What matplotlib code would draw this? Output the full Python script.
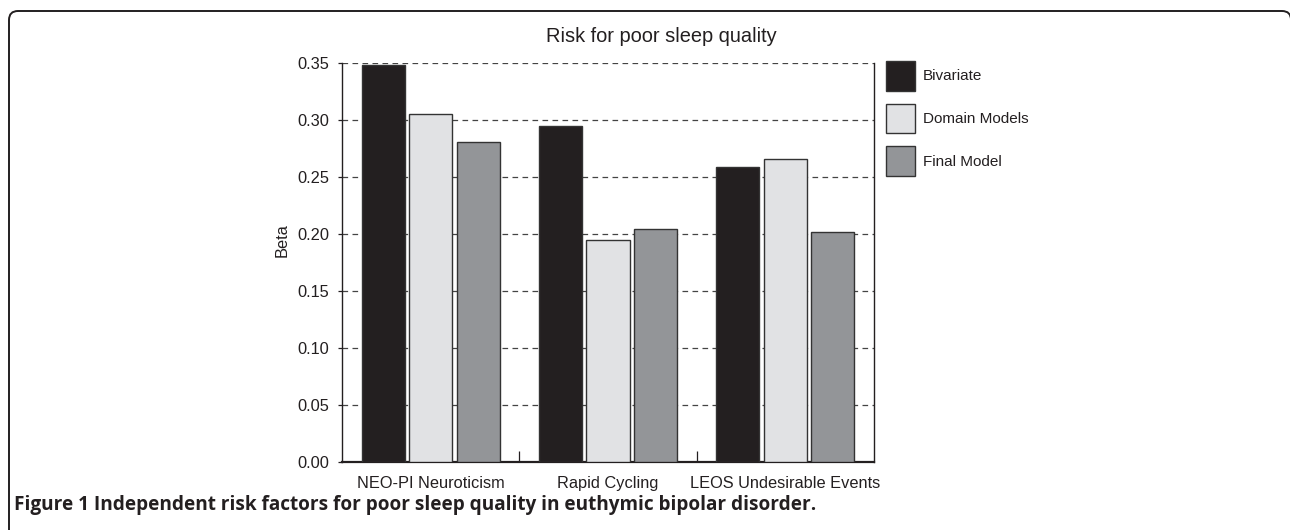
import matplotlib
matplotlib.use("Agg")
import matplotlib.pyplot as plt
import numpy as np
from matplotlib.patches import FancyBboxPatch, Patch
from matplotlib.transforms import IdentityTransform

# ---- data ----
categories = ["NEO-PI Neuroticism", "Rapid Cycling", "LEOS Undesirable Events"]
series_names = ["Bivariate", "Domain Models", "Final Model"]
bivariate = [0.348, 0.295, 0.259]
domain_models = [0.305, 0.195, 0.266]
final_model = [0.281, 0.204, 0.202]
yticks = [0.00, 0.05, 0.10, 0.15, 0.20, 0.25, 0.30, 0.35]
ytick_labels = ["0.00", "0.05", "0.10", "0.15", "0.20", "0.25", "0.30", "0.35"]
title = "Risk for poor sleep quality"
ylabel = "Beta"
caption = "Figure 1 Independent risk factors for poor sleep quality in euthymic bipolar disorder."

# ---- style ----
colors = ["#231f20", "#e1e2e4", "#939598"]
edge = "#333333"
txt = "#231f20"
W, H = 1290, 530
plt.rcParams["font.family"] = ["Liberation Sans", "DejaVu Sans"]

fig = plt.figure(figsize=(W / 100, H / 100), dpi=100)
fig.patch.set_facecolor("white")

ax_l, ax_r, ax_t, ax_b = 342, 874, 63, 462
ax = fig.add_axes([ax_l / W, (H - ax_b) / H, (ax_r - ax_l) / W, (ax_b - ax_t) / H])

x = np.arange(len(categories))
offset = 0.268
width = 0.243
series = [bivariate, domain_models, final_model]
for i, (vals, name, c) in enumerate(zip(series, series_names, colors)):
    ax.bar(x + (i - 1) * offset, vals, width, color=c, edgecolor=edge,
           linewidth=1.0, label=name, zorder=3)

ax.set_xlim(-0.5, 2.5)
ax.set_ylim(0, 0.35)
ax.set_yticks(yticks)
ax.set_yticklabels(ytick_labels)
ax.set_xticks(x)
ax.set_xticklabels(categories)
ax.set_xticks([0.5, 1.5], minor=True)
ax.tick_params(axis="x", which="major", length=0, pad=10, labelsize=11.8, colors=txt)
ax.tick_params(axis="x", which="minor", direction="in", length=8, width=0.9, color=txt)
ax.tick_params(axis="y", which="major", direction="out", length=3, width=0.9,
               pad=6, labelsize=11.8, colors=txt)

ax.yaxis.grid(True, linestyle=(0, (4.5, 3.5)), color="#444444", linewidth=0.9)
ax.set_axisbelow(True)
ax.spines["top"].set_visible(False)
for s in ["left", "right"]:
    ax.spines[s].set_linewidth(1.0)
    ax.spines[s].set_color(txt)
ax.spines["bottom"].set_linewidth(1.6)
ax.spines["bottom"].set_color(txt)

# title and y label
fig.text(661 / W, (H - 42) / H, title, ha="center", va="baseline",
         fontsize=14.4, color=txt)
fig.text(282 / W, (H - 240) / H, ylabel, ha="center", va="center",
         rotation=90, fontsize=11.8, color=txt)

# legend
handles = [Patch(facecolor=c, edgecolor=edge, linewidth=1.0) for c in colors]
fs = 11.0
fpx = fs / 72 * 100
leg = fig.legend(handles, series_names, loc="upper left",
                 bbox_to_anchor=(886 / W, (H - 61) / H),
                 frameon=False, fontsize=fs, borderpad=0, borderaxespad=0,
                 handlelength=29 / fpx, handleheight=28 / (0.7 * fpx),
                 handletextpad=8 / fpx, labelspacing=13 / fpx)
for t in leg.get_texts():
    t.set_color(txt)

# caption
cap = fig.text(14 / W, 20 / H, caption, ha="left", va="baseline",
               fontsize=14, fontweight="bold", color=txt,
               family=["Open Sans", "DejaVu Sans"])
fig.canvas.draw()
bb = cap.get_window_extent()
target = 818 - 14
cap.set_fontsize(14 * target / bb.width)

# frame
frame = FancyBboxPatch((9, -60), 1282, (H - 11) + 60,
                       boxstyle="round,pad=0,rounding_size=9",
                       fill=False, edgecolor=txt, linewidth=1.4,
                       transform=IdentityTransform())
fig.add_artist(frame)

fig.savefig("out.png", dpi=100, facecolor="white")
